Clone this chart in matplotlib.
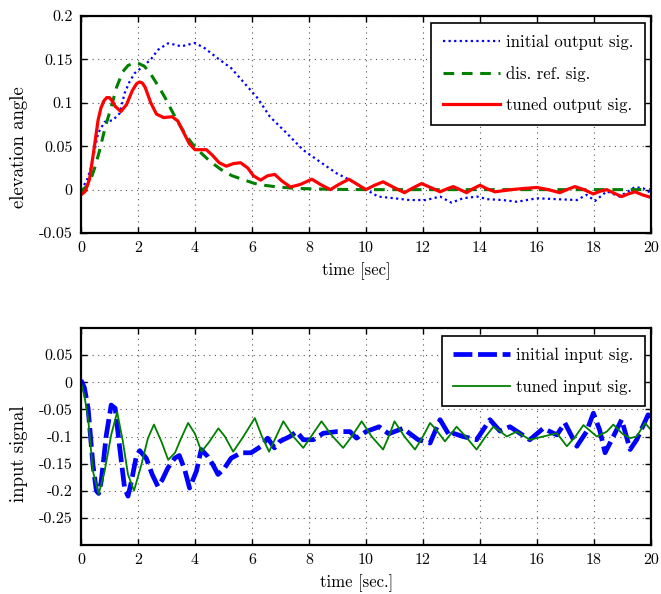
"""Elevation angle / input signal comparison, initial vs tuned controller."""

import matplotlib
matplotlib.use("Agg")
import matplotlib.pyplot as plt

plt.rcParams["font.family"]=["cmr10","DejaVu Serif"]
plt.rcParams["axes.unicode_minus"]=False
plt.rcParams["mathtext.fontset"]="cm"

# top: elevation angle
t_out_init=[0,0.2,0.36,0.6,0.83,1.12,1.36,1.53,1.7,1.88,2.23,2.45,2.7,3.05,3.3,3.52,3.75,4.0,4.34,4.81,5.27,5.74,6.21,6.63,7.22,7.8,8.39,8.97,9.44,10.0,10.43,11.0,11.54,12.1,12.6,13.0,13.4,13.9,14.25,14.8,15.3,16.0,16.7,17.4,17.74,18.04,18.45,18.9,19.44,19.73,20.0]
v_out_init=[0,0.01,0.026,0.065,0.078,0.08,0.088,0.111,0.124,0.134,0.1435,0.15,0.161,0.1685,0.167,0.165,0.167,0.169,0.163,0.151,0.14,0.1225,0.105,0.084,0.065,0.0456,0.032,0.0188,0.011,0.0,-0.008,-0.01,-0.012,-0.012,-0.008,-0.015,-0.01,-0.008,-0.011,-0.012,-0.014,-0.01,-0.011,-0.012,-0.006,-0.013,-0.002,-0.008,0.003,0.0015,-0.004]
t_ref=[0,0.2,0.36,0.5,0.66,0.85,1.06,1.25,1.47,1.65,1.88,2.05,2.23,2.45,2.7,2.95,3.17,3.4,3.64,3.9,4.22,4.55,4.92,5.3,5.74,6.1,6.44,6.91,7.5,8.2,9,10,12,14,16,18,20]
v_ref=[-0.002,0.004,0.013,0.027,0.046,0.072,0.095,0.118,0.136,0.143,0.146,0.145,0.142,0.133,0.12,0.106,0.092,0.078,0.065,0.053,0.042,0.032,0.023,0.016,0.011,0.007,0.005,0.003,0.0015,0.0008,0.0003,0,0,0,0,0,0]
t_out_tuned=[0,0.15,0.3,0.45,0.6,0.7,0.8,0.9,1.0,1.1,1.2,1.4,1.6,1.8,1.95,2.05,2.15,2.25,2.45,2.65,2.9,3.2,3.4,3.6,3.8,4.0,4.2,4.4,4.6,4.85,5.1,5.35,5.6,5.85,6.05,6.3,6.55,6.8,7.05,7.35,7.7,8.1,8.4,8.75,9.05,9.4,9.7,10.0,10.3,10.6,10.95,11.35,11.65,11.95,12.3,12.6,12.85,13.06,13.3,13.53,13.75,14.0,14.25,14.53,15.1,15.6,16.0,16.4,16.8,17.05,17.33,17.65,17.98,18.2,18.45,18.7,18.97,19.2,19.44,19.7,20.0]
v_out_tuned=[-0.006,-0.002,0.012,0.045,0.08,0.094,0.102,0.106,0.106,0.102,0.096,0.09,0.098,0.114,0.122,0.124,0.123,0.118,0.1,0.087,0.083,0.084,0.079,0.066,0.053,0.046,0.046,0.046,0.04,0.031,0.027,0.03,0.031,0.025,0.016,0.011,0.016,0.0175,0.01,0.003,0.006,0.012,0.006,0.0,0.006,0.012,0.006,0.0,0.005,0.009,0.003,-0.0035,0.002,0.007,0.002,-0.0025,0.001,0.0035,0.0,-0.0035,0.001,0.005,0.001,-0.0025,0.0,0.0015,0.0025,0.0,-0.0035,0.0,0.0035,0.0,-0.005,-0.002,0.0,-0.004,-0.008,-0.005,-0.0025,-0.006,-0.009]

# bottom: input signal
t_in_init=[0,0.12,0.25,0.42,0.54,0.62,0.71,0.89,1.06,1.2,1.36,1.53,1.65,1.77,1.94,2.06,2.29,2.5,2.7,2.85,3.05,3.29,3.45,3.64,3.81,4.05,4.22,4.45,4.63,4.81,5.04,5.27,5.62,5.97,6.32,6.55,6.79,6.98,7.33,7.57,7.8,8.15,8.5,8.97,9.44,9.67,10.0,10.46,10.8,11.3,11.55,11.83,12.25,12.6,12.95,13.06,13.4,13.88,14.35,14.7,15.05,15.4,15.75,16.22,16.7,16.98,17.4,17.74,17.98,18.2,18.39,18.68,18.97,19.27,19.5,19.9,20.0]
v_in_init=[0.004,-0.01,-0.048,-0.152,-0.2,-0.205,-0.183,-0.097,-0.042,-0.048,-0.121,-0.195,-0.21,-0.183,-0.137,-0.126,-0.14,-0.17,-0.192,-0.18,-0.158,-0.14,-0.135,-0.161,-0.195,-0.164,-0.124,-0.137,-0.152,-0.17,-0.158,-0.14,-0.13,-0.13,-0.118,-0.103,-0.121,-0.109,-0.1,-0.091,-0.106,-0.106,-0.094,-0.091,-0.091,-0.103,-0.091,-0.082,-0.095,-0.085,-0.095,-0.106,-0.112,-0.069,-0.1,-0.094,-0.1,-0.106,-0.069,-0.09,-0.082,-0.094,-0.106,-0.085,-0.097,-0.075,-0.118,-0.091,-0.057,-0.088,-0.13,-0.1,-0.069,-0.124,-0.106,-0.06,-0.07]
t_in_tuned=[0,0.12,0.25,0.42,0.62,0.83,1.06,1.27,1.47,1.65,1.86,2.12,2.35,2.56,2.82,3.06,3.3,3.5,3.76,4.0,4.23,4.5,4.82,5.05,5.34,5.7,6.1,6.35,6.6,6.85,7.1,7.45,7.8,8.1,8.44,8.8,9.2,9.5,9.85,10.2,10.6,10.8,11.0,11.35,11.72,12.0,12.25,12.5,12.77,13.18,13.5,13.88,14.2,14.47,14.7,14.94,15.29,15.75,16.22,16.7,17.05,17.35,17.63,18.1,18.45,18.68,19.0,19.27,19.5,19.79,20.0]
v_in_tuned=[0,-0.025,-0.066,-0.164,-0.206,-0.164,-0.097,-0.055,-0.109,-0.17,-0.2,-0.152,-0.103,-0.078,-0.109,-0.143,-0.13,-0.105,-0.075,-0.095,-0.128,-0.11,-0.085,-0.1,-0.128,-0.1,-0.066,-0.1,-0.128,-0.1,-0.072,-0.1,-0.121,-0.098,-0.072,-0.098,-0.121,-0.1,-0.072,-0.1,-0.124,-0.1,-0.072,-0.1,-0.124,-0.1,-0.075,-0.09,-0.109,-0.082,-0.1,-0.124,-0.1,-0.082,-0.09,-0.1,-0.091,-0.106,-0.1,-0.094,-0.118,-0.1,-0.079,-0.1,-0.091,-0.078,-0.095,-0.103,-0.1,-0.075,-0.088]

xticks=list(range(0,21,2))
yticks_top=[-0.05,0,0.05,0.1,0.15,0.2]; ylab_top=["-0.05","0","0.05","0.1","0.15","0.2"]
yticks_bot=[-0.25,-0.2,-0.15,-0.1,-0.05,0,0.05]; ylab_bot=["-0.25","-0.2","-0.15","-0.1","-0.05","0","0.05"]

def style(ax,yt,yl,ylim,ylabel,xlabel,ly):
    ax.set_xlim(0,20); ax.set_ylim(*ylim)
    ax.set_xticks(xticks); ax.set_xticklabels([str(x) for x in xticks],fontsize=11.5)
    ax.set_yticks(yt); ax.set_yticklabels(yl,fontsize=11.5)
    ax.tick_params(direction="in",top=True,right=True,length=4,width=1,pad=6)
    ax.grid(True,color="#555555",lw=0.8,ls=(0,(1,4)))
    for s in ax.spines.values(): s.set_linewidth(1.6)
    ax.set_ylabel(ylabel,fontsize=13.5,labelpad=8); ax.set_xlabel(xlabel,fontsize=12,labelpad=5)
    ax.yaxis.label.set_y(ly); ax.xaxis.label.set_x(0.483)

def legend(ax,top):
    lg=ax.legend(loc="upper right",bbox_to_anchor=(0.989,top),borderaxespad=0,fancybox=False,edgecolor="black",framealpha=1,
                 fontsize=12,handlelength=3.4,handletextpad=0.35,labelspacing=0.95,borderpad=0.7)
    lg.get_frame().set_linewidth(1.2)

fig=plt.figure(figsize=(6.61,5.94),dpi=100)
ax1=fig.add_axes([0.1225,0.6077,0.8623,0.3653]); ax2=fig.add_axes([0.1225,0.0825,0.8623,0.3653])

ax1.plot(t_out_init,v_out_init,color="#0000ff",lw=1.6,ls=(0,(1,1.5)),label="initial output sig.")
ax1.plot(t_ref,v_ref,color="#008000",lw=2.2,ls=(0,(3.5,2.5)),label="dis. ref. sig.")
ax1.plot(t_out_tuned,v_out_tuned,color="#ff0000",lw=2.3,label="tuned output sig.")
style(ax1,yticks_top,ylab_top,(-0.05,0.2),"elevation angle","time [sec]",0.396)
legend(ax1,0.968)

ax2.plot(t_in_init,v_in_init,color="#0000ff",lw=3.4,ls=(0,(4,1.2)),label="initial input sig.")
ax2.plot(t_in_tuned,v_in_tuned,color="#008000",lw=1.3,label="tuned input sig.")
style(ax2,yticks_bot,ylab_bot,(-0.3,0.1),"input signal","time [sec.]",0.42)
legend(ax2,0.963)

fig.savefig("out.png",dpi=100)
